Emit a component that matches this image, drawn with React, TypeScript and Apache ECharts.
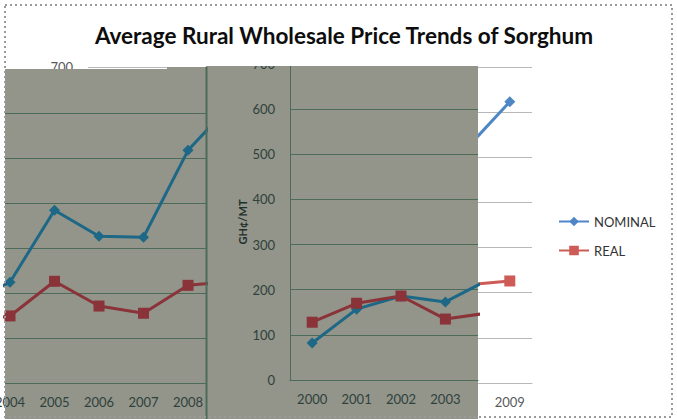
import React, { useEffect, useRef } from "react";
import * as echarts from "echarts";

const years = [2000, 2001, 2002, 2003, 2004, 2005, 2006, 2007, 2008, 2009];
const yearLabels = years.map(String);
const nominal = [82, 157, 186, 173, 224, 384, 326, 324, 517, 623];
const real = [128, 170, 186, 135, 149, 226, 171, 155, 217, 226];
const leftPanelYears = [2004, 2005, 2006, 2007, 2008];
const rightPanelYears = [2000, 2001, 2002, 2003];

const FONT = "Lato";
const GRAY = "#93948a";
const DARKGRID = "#4c6b5b";
const DARKTEXT = "#2e423c";
const BASE_NOM = "#4f86c6";
const BASE_REAL = "#cd5c57";
const OV_NOM = "#1c6886";
const OV_REAL = "#8a3339";

export default function App() {
  const ref = useRef<HTMLDivElement>(null);
  useEffect(() => {
    if (!ref.current) return;
    const chart = echarts.init(ref.current, undefined, { renderer: "svg" });
    const pairs = (vals: number[]) => years.map((y, i) => [y, vals[i]]);
    const ovSeries = (name: string, vals: number[], idx: number, color: string, symbol: string, size: number) => ({
      type: "line",
      name,
      xAxisIndex: idx,
      yAxisIndex: idx,
      data: pairs(vals),
      symbol,
      symbolSize: size,
      clip: true,
      z: 12,
      lineStyle: { color, width: 3 },
      itemStyle: { color },
    });
    chart.setOption({
      animation: false,
      backgroundColor: "#ffffff",
      title: {
        text: "Average Rural Wholesale Price Trends of Sorghum",
        left: 339,
        textAlign: "center",
        top: 19,
        textStyle: { fontFamily: FONT, fontWeight: "bold", fontSize: 22.5, color: "#0d0d0d" },
      },
      legend: {
        data: ["NOMINAL", "REAL"],
        orient: "vertical",
        left: 553,
        top: 210,
        itemWidth: 30,
        itemHeight: 12,
        itemGap: 16,
        textStyle: { fontFamily: FONT, fontSize: 13, color: "#333333" },
      },
      grid: [
        { left: 88, right: 145, top: 67, bottom: 36, outerBoundsMode: "none" },
        { left: 5, width: 201, top: 68, bottom: 36, z: 11, outerBoundsMode: "none" },
        { left: 290, width: 188, top: 64, bottom: 39, z: 11, outerBoundsMode: "none" },
      ],
      xAxis: [
        {
          type: "category",
          gridIndex: 0,
          data: yearLabels,
          axisLine: { lineStyle: { color: "#b8b8b8" } },
          axisTick: { show: false },
          axisLabel: {
            interval: (i: number) => i === years.length - 1,
            fontFamily: FONT,
            fontSize: 13,
            color: "#595959",
            margin: 12,
          },
        },
        {
          type: "value",
          gridIndex: 1,
          min: 2003.888,
          max: 2008.404,
          z: 11,
          splitLine: { show: false },
          axisLine: { show: false },
          axisTick: { show: false },
          axisLabel: {
            customValues: leftPanelYears,
            formatter: (v: number) => String(v),
            fontFamily: FONT,
            fontSize: 13,
            color: DARKTEXT,
            margin: 12,
          },
        },
        {
          type: "value",
          gridIndex: 2,
          min: 1999.5,
          max: 2003.734,
          z: 11,
          splitLine: { show: false },
          axisLine: { show: true, lineStyle: { color: DARKGRID, width: 1 } },
          axisTick: { show: false },
          axisLabel: {
            customValues: rightPanelYears,
            formatter: (v: number) => String(v),
            fontFamily: FONT,
            fontSize: 13,
            color: DARKTEXT,
            margin: 12,
          },
        },
      ],
      yAxis: [
        {
          type: "value",
          gridIndex: 0,
          min: 0,
          max: 700,
          interval: 100,
          axisLine: { show: false },
          axisTick: { show: false },
          splitLine: { lineStyle: { color: "#b8b8b8" } },
          axisLabel: { fontFamily: FONT, fontSize: 13, color: "#595959", margin: 15 },
        },
        {
          type: "value",
          gridIndex: 1,
          min: 0,
          max: 700,
          interval: 100,
          z: 11,
          axisLine: { show: false },
          axisTick: { show: false },
          axisLabel: { show: false },
          splitLine: { showMaxLine: false, lineStyle: { color: DARKGRID } },
        },
        {
          type: "value",
          gridIndex: 2,
          min: 0,
          max: 700,
          interval: 100,
          z: 11,
          name: "GH¢/MT",
          nameLocation: "middle",
          nameGap: 42,
          nameTextStyle: { fontFamily: FONT, fontWeight: "bold", fontSize: 11, color: "#1f2f2a" },
          axisLine: { show: true, lineStyle: { color: DARKGRID } },
          axisTick: { show: false },
          splitLine: { showMaxLine: false, lineStyle: { color: DARKGRID } },
          axisLabel: { fontFamily: FONT, fontSize: 13, color: DARKTEXT, margin: 15 },
        },
      ],
      series: [
        {
          type: "line",
          name: "NOMINAL",
          data: nominal,
          symbol: "diamond",
          symbolSize: 11,
          z: 2,
          lineStyle: { color: BASE_NOM, width: 3 },
          itemStyle: { color: BASE_NOM },
        },
        {
          type: "line",
          name: "REAL",
          data: real,
          symbol: "rect",
          symbolSize: 11,
          z: 2,
          lineStyle: { color: BASE_REAL, width: 3 },
          itemStyle: { color: BASE_REAL },
        },
        ovSeries("NOMINAL (left view)", nominal, 1, OV_NOM, "diamond", 11),
        ovSeries("REAL (left view)", real, 1, OV_REAL, "rect", 11),
        ovSeries("NOMINAL (right view)", nominal, 2, OV_NOM, "diamond", 11),
        ovSeries("REAL (right view)", real, 2, OV_REAL, "rect", 11),
      ],
      graphic: [
        { type: "rect", z: 10, shape: { x: 5, y: 69, width: 163, height: 360 }, style: { fill: GRAY } },
        { type: "rect", z: 10, shape: { x: 167, y: 67, width: 40, height: 360 }, style: { fill: GRAY } },
        { type: "rect", z: 10, shape: { x: 206, y: 66, width: 272, height: 360 }, style: { fill: GRAY } },
        { type: "rect", z: 20, shape: { x: 206, y: 48, width: 90, height: 18 }, style: { fill: "#ffffff" } },
        { type: "line", z: 20, shape: { x1: 206.5, y1: 67, x2: 206.5, y2: 419 }, style: { stroke: DARKGRID, lineWidth: 2 } },
        {
          type: "rect",
          z: 30,
          shape: { x: 5, y: 5, width: 667, height: 412 },
          style: { fill: "none", stroke: "#9a9a9a", lineWidth: 2, lineDash: [2, 3] },
        },
      ],
    });
    return () => chart.dispose();
  }, []);
  return <div ref={ref} style={{ position: "fixed", left: 0, top: 0, width: 677, height: 419 }} />;
}
